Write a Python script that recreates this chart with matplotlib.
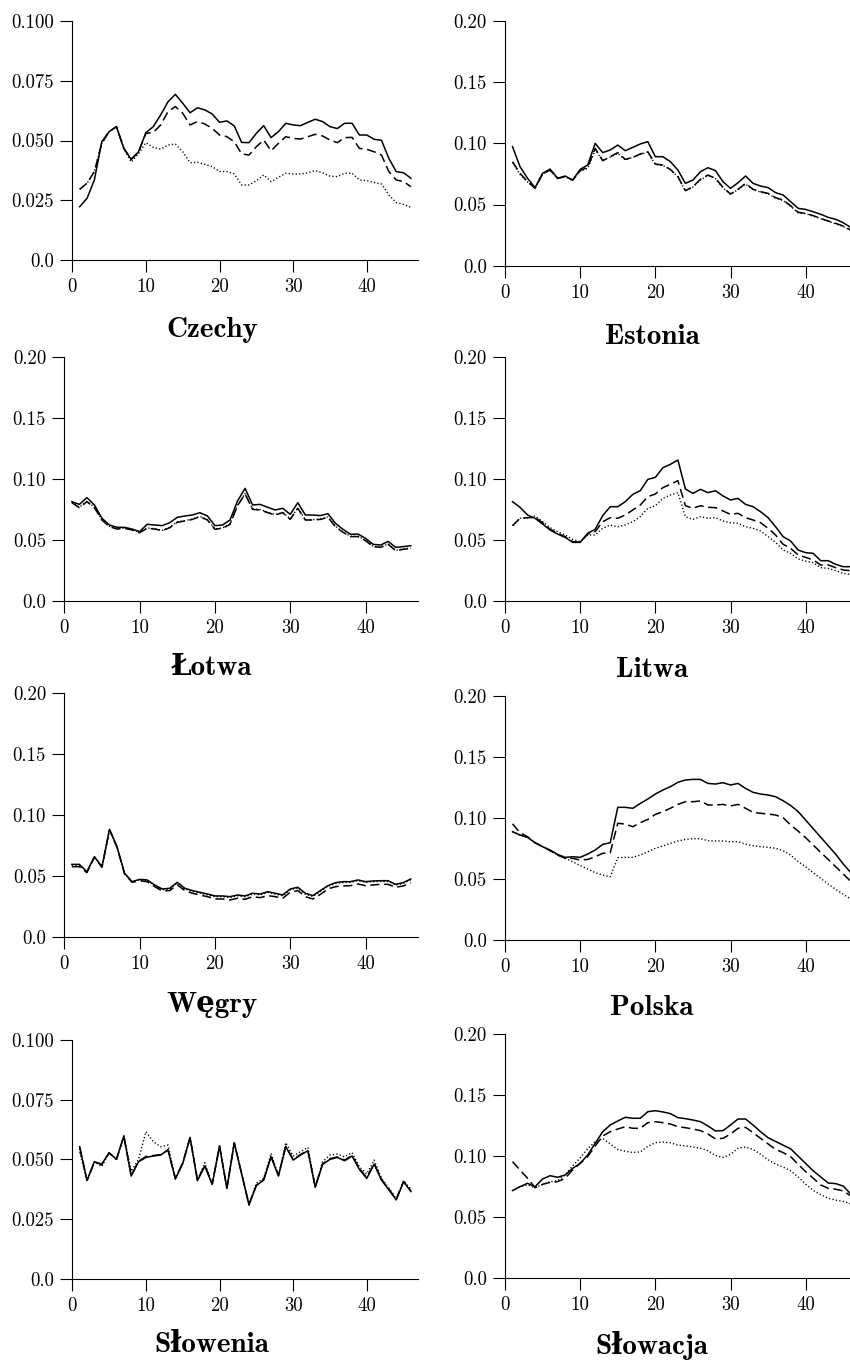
import matplotlib
matplotlib.use("Agg")
import matplotlib.pyplot as plt

# week index on the x axis
weeks = list(range(1, 47))

xticks = [0, 10, 20, 30, 40]
xtick_labels = ["0", "10", "20", "30", "40"]
yticks_small = [0.0, 0.025, 0.050, 0.075, 0.100]
ytick_labels_small = ["0.0", "0.025", "0.050", "0.075", "0.100"]
yticks_big = [0.0, 0.05, 0.10, 0.15, 0.20]
ytick_labels_big = ["0.0", "0.05", "0.10", "0.15", "0.20"]

# Czechy
cz_solid = [0.0223, 0.0258, 0.0335, 0.0495, 0.0537, 0.0558, 0.0467, 0.0421, 0.0453, 0.0533,
            0.0558, 0.0607, 0.0662, 0.0693, 0.0656, 0.0616, 0.0637, 0.0628, 0.0611, 0.0576,
            0.0582, 0.0561, 0.0492, 0.0491, 0.0530, 0.0562, 0.0512, 0.0537, 0.0572, 0.0565,
            0.0562, 0.0576, 0.0589, 0.0579, 0.0558, 0.0550, 0.0572, 0.0572, 0.0523, 0.0523,
            0.0505, 0.0501, 0.0425, 0.0370, 0.0365, 0.0342]
cz_dashed = [0.0296, 0.0321, 0.0370, 0.0488, 0.0537, 0.0558, 0.0467, 0.0421, 0.0453, 0.0530,
             0.0533, 0.0565, 0.0621, 0.0642, 0.0614, 0.0565, 0.0579, 0.0569, 0.0551, 0.0523,
             0.0516, 0.0495, 0.0444, 0.0439, 0.0474, 0.0502, 0.0457, 0.0488, 0.0516, 0.0509,
             0.0506, 0.0516, 0.0526, 0.0519, 0.0502, 0.0491, 0.0512, 0.0513, 0.0467, 0.0463,
             0.0453, 0.0439, 0.0370, 0.0335, 0.0328, 0.0307]
cz_dotted = [0.0296, 0.0321, 0.0370, 0.0488, 0.0537, 0.0558, 0.0467, 0.0410, 0.0445, 0.0491,
             0.0471, 0.0464, 0.0481, 0.0485, 0.0453, 0.0407, 0.0409, 0.0400, 0.0391, 0.0370,
             0.0370, 0.0360, 0.0314, 0.0314, 0.0331, 0.0356, 0.0328, 0.0346, 0.0363, 0.0360,
             0.0360, 0.0365, 0.0374, 0.0365, 0.0351, 0.0349, 0.0363, 0.0363, 0.0335, 0.0332,
             0.0324, 0.0318, 0.0272, 0.0240, 0.0233, 0.0220]

# Estonia
ee_solid = [0.0973, 0.0809, 0.0714, 0.0638, 0.0755, 0.0790, 0.0714, 0.0733, 0.0700, 0.0787,
            0.0823, 0.1000, 0.0924, 0.0946, 0.0986, 0.0940, 0.0967, 0.0995, 0.1014, 0.0891,
            0.0891, 0.0850, 0.0782, 0.0673, 0.0700, 0.0768, 0.0801, 0.0777, 0.0687, 0.0632,
            0.0678, 0.0733, 0.0673, 0.0651, 0.0638, 0.0597, 0.0578, 0.0523, 0.0469, 0.0460,
            0.0441, 0.0420, 0.0395, 0.0379, 0.0351, 0.0313]
ee_dashed = [0.0850, 0.0755, 0.0687, 0.0632, 0.0750, 0.0782, 0.0714, 0.0728, 0.0700, 0.0777,
             0.0804, 0.0959, 0.0858, 0.0891, 0.0924, 0.0869, 0.0886, 0.0913, 0.0932, 0.0831,
             0.0823, 0.0787, 0.0728, 0.0613, 0.0646, 0.0706, 0.0741, 0.0714, 0.0640, 0.0586,
             0.0624, 0.0673, 0.0624, 0.0605, 0.0591, 0.0556, 0.0537, 0.0490, 0.0436, 0.0428,
             0.0409, 0.0387, 0.0365, 0.0346, 0.0324, 0.0292]
ee_dotted = [0.0845, 0.0745, 0.0685, 0.0635, 0.0748, 0.0780, 0.0712, 0.0728, 0.0698, 0.0775,
             0.0795, 0.0945, 0.0862, 0.0888, 0.0918, 0.0865, 0.0885, 0.0910, 0.0928, 0.0826,
             0.0820, 0.0785, 0.0725, 0.0612, 0.0642, 0.0702, 0.0738, 0.0712, 0.0636, 0.0583,
             0.0622, 0.0668, 0.0622, 0.0601, 0.0588, 0.0552, 0.0533, 0.0486, 0.0432, 0.0425,
             0.0405, 0.0384, 0.0362, 0.0342, 0.0320, 0.0288]

# Łotwa
lv_solid = [0.0813, 0.0791, 0.0846, 0.0786, 0.0677, 0.0622, 0.0603, 0.0603, 0.0589, 0.0568,
            0.0628, 0.0622, 0.0617, 0.0641, 0.0685, 0.0696, 0.0704, 0.0723, 0.0696, 0.0617,
            0.0622, 0.0663, 0.0819, 0.0922, 0.0786, 0.0791, 0.0767, 0.0745, 0.0759, 0.0709,
            0.0805, 0.0704, 0.0704, 0.0699, 0.0715, 0.0636, 0.0587, 0.0546, 0.0548, 0.0513,
            0.0464, 0.0458, 0.0488, 0.0439, 0.0445, 0.0453]
lv_dashed = [0.0805, 0.0764, 0.0813, 0.0764, 0.0663, 0.0608, 0.0589, 0.0595, 0.0581, 0.0559,
             0.0595, 0.0589, 0.0576, 0.0600, 0.0644, 0.0655, 0.0668, 0.0690, 0.0663, 0.0587,
             0.0595, 0.0628, 0.0780, 0.0876, 0.0750, 0.0745, 0.0723, 0.0704, 0.0723, 0.0668,
             0.0759, 0.0663, 0.0663, 0.0668, 0.0685, 0.0608, 0.0562, 0.0527, 0.0527, 0.0494,
             0.0445, 0.0439, 0.0464, 0.0412, 0.0423, 0.0431]
lv_dotted = [0.0808, 0.0768, 0.0816, 0.0768, 0.0666, 0.0612, 0.0592, 0.0598, 0.0584, 0.0562,
             0.0598, 0.0592, 0.0578, 0.0604, 0.0648, 0.0658, 0.0671, 0.0693, 0.0666, 0.0590,
             0.0598, 0.0632, 0.0785, 0.0880, 0.0754, 0.0749, 0.0727, 0.0708, 0.0726, 0.0672,
             0.0762, 0.0666, 0.0666, 0.0671, 0.0688, 0.0612, 0.0565, 0.0530, 0.0530, 0.0498,
             0.0448, 0.0442, 0.0467, 0.0415, 0.0426, 0.0434]

# Litwa
lt_solid = [0.0813, 0.0767, 0.0704, 0.0677, 0.0630, 0.0581, 0.0548, 0.0521, 0.0480, 0.0480,
            0.0554, 0.0587, 0.0699, 0.0772, 0.0772, 0.0813, 0.0873, 0.0903, 0.0996, 0.1012,
            0.1091, 0.1119, 0.1154, 0.0917, 0.0881, 0.0914, 0.0887, 0.0903, 0.0860, 0.0827,
            0.0840, 0.0791, 0.0772, 0.0731, 0.0682, 0.0608, 0.0527, 0.0491, 0.0417, 0.0396,
            0.0390, 0.0330, 0.0330, 0.0300, 0.0281, 0.0281]
lt_dashed = [0.0617, 0.0677, 0.0682, 0.0685, 0.0641, 0.0587, 0.0554, 0.0527, 0.0486, 0.0480,
             0.0548, 0.0568, 0.0649, 0.0682, 0.0677, 0.0704, 0.0745, 0.0786, 0.0854, 0.0876,
             0.0928, 0.0955, 0.0985, 0.0780, 0.0759, 0.0780, 0.0767, 0.0764, 0.0737, 0.0709,
             0.0718, 0.0682, 0.0663, 0.0641, 0.0595, 0.0540, 0.0464, 0.0431, 0.0377, 0.0357,
             0.0336, 0.0295, 0.0295, 0.0273, 0.0254, 0.0248]
lt_dotted = [0.0617, 0.0677, 0.0682, 0.0696, 0.0649, 0.0600, 0.0568, 0.0540, 0.0505, 0.0486,
             0.0540, 0.0540, 0.0595, 0.0622, 0.0608, 0.0622, 0.0649, 0.0690, 0.0759, 0.0780,
             0.0840, 0.0868, 0.0887, 0.0690, 0.0668, 0.0690, 0.0677, 0.0682, 0.0655, 0.0641,
             0.0636, 0.0608, 0.0595, 0.0573, 0.0527, 0.0480, 0.0417, 0.0390, 0.0344, 0.0327,
             0.0314, 0.0273, 0.0267, 0.0248, 0.0226, 0.0218]

# Węgry
hu_solid = [0.0598, 0.0598, 0.0538, 0.0661, 0.0579, 0.0885, 0.0743, 0.0525, 0.0456, 0.0475,
            0.0470, 0.0429, 0.0396, 0.0402, 0.0451, 0.0402, 0.0383, 0.0369, 0.0355, 0.0339,
            0.0339, 0.0333, 0.0347, 0.0339, 0.0361, 0.0355, 0.0374, 0.0361, 0.0347, 0.0396,
            0.0410, 0.0361, 0.0342, 0.0383, 0.0423, 0.0448, 0.0456, 0.0456, 0.0470, 0.0456,
            0.0462, 0.0464, 0.0464, 0.0434, 0.0448, 0.0478]
hu_dashed = [0.0579, 0.0579, 0.0530, 0.0656, 0.0574, 0.0880, 0.0738, 0.0519, 0.0451, 0.0464,
             0.0456, 0.0415, 0.0380, 0.0383, 0.0429, 0.0383, 0.0361, 0.0347, 0.0333, 0.0314,
             0.0314, 0.0306, 0.0320, 0.0311, 0.0333, 0.0325, 0.0342, 0.0333, 0.0320, 0.0369,
             0.0383, 0.0333, 0.0314, 0.0352, 0.0396, 0.0415, 0.0421, 0.0423, 0.0437, 0.0423,
             0.0429, 0.0434, 0.0434, 0.0410, 0.0421, 0.0448]
hu_dotted = [0.0592, 0.0592, 0.0534, 0.0658, 0.0576, 0.0882, 0.0740, 0.0522, 0.0453, 0.0472,
             0.0466, 0.0424, 0.0390, 0.0396, 0.0446, 0.0396, 0.0376, 0.0362, 0.0348, 0.0332,
             0.0332, 0.0326, 0.0340, 0.0332, 0.0354, 0.0348, 0.0367, 0.0354, 0.0340, 0.0389,
             0.0403, 0.0354, 0.0335, 0.0376, 0.0416, 0.0441, 0.0449, 0.0450, 0.0464, 0.0450,
             0.0456, 0.0458, 0.0458, 0.0428, 0.0442, 0.0472]

# Polska
pl_solid = [0.0885, 0.0858, 0.0839, 0.0795, 0.0762, 0.0735, 0.0699, 0.0675, 0.0680, 0.0675,
            0.0702, 0.0735, 0.0781, 0.0795, 0.1085, 0.1085, 0.1077, 0.1117, 0.1153, 0.1194,
            0.1227, 0.1254, 0.1290, 0.1309, 0.1314, 0.1314, 0.1281, 0.1276, 0.1287, 0.1268,
            0.1281, 0.1240, 0.1208, 0.1194, 0.1186, 0.1172, 0.1139, 0.1100, 0.1050, 0.0980,
            0.0910, 0.0840, 0.0770, 0.0700, 0.0620, 0.0550]
pl_dashed = [0.0950, 0.0877, 0.0844, 0.0795, 0.0762, 0.0730, 0.0694, 0.0667, 0.0667, 0.0653,
             0.0658, 0.0680, 0.0708, 0.0713, 0.0954, 0.0948, 0.0926, 0.0959, 0.0986, 0.1027,
             0.1049, 0.1077, 0.1109, 0.1131, 0.1131, 0.1137, 0.1104, 0.1104, 0.1109, 0.1096,
             0.1109, 0.1077, 0.1044, 0.1036, 0.1030, 0.1022, 0.1000, 0.0940, 0.0890, 0.0836,
             0.0776, 0.0716, 0.0657, 0.0598, 0.0538, 0.0478]
pl_dotted = [0.0885, 0.0858, 0.0839, 0.0795, 0.0762, 0.0730, 0.0694, 0.0667, 0.0639, 0.0607,
             0.0579, 0.0549, 0.0530, 0.0516, 0.0672, 0.0675, 0.0675, 0.0694, 0.0721, 0.0749,
             0.0768, 0.0790, 0.0809, 0.0822, 0.0828, 0.0828, 0.0811, 0.0809, 0.0809, 0.0803,
             0.0803, 0.0784, 0.0770, 0.0762, 0.0757, 0.0749, 0.0730, 0.0694, 0.0639, 0.0598,
             0.0549, 0.0503, 0.0456, 0.0413, 0.0372, 0.0333]

# Słowenia
si_solid = [0.0553, 0.0411, 0.0490, 0.0480, 0.0528, 0.0500, 0.0598, 0.0430, 0.0490, 0.0508,
            0.0514, 0.0518, 0.0539, 0.0418, 0.0483, 0.0592, 0.0411, 0.0472, 0.0395, 0.0556,
            0.0378, 0.0570, 0.0439, 0.0309, 0.0390, 0.0413, 0.0511, 0.0430, 0.0553, 0.0497,
            0.0518, 0.0536, 0.0383, 0.0479, 0.0500, 0.0508, 0.0494, 0.0514, 0.0458, 0.0420,
            0.0480, 0.0413, 0.0372, 0.0330, 0.0406, 0.0365]
si_dashed = [0.0550, 0.0413, 0.0488, 0.0478, 0.0526, 0.0500, 0.0596, 0.0432, 0.0492, 0.0512,
             0.0516, 0.0520, 0.0540, 0.0420, 0.0485, 0.0590, 0.0414, 0.0474, 0.0397, 0.0554,
             0.0380, 0.0568, 0.0441, 0.0312, 0.0392, 0.0416, 0.0513, 0.0433, 0.0555, 0.0500,
             0.0520, 0.0538, 0.0386, 0.0481, 0.0503, 0.0510, 0.0497, 0.0516, 0.0461, 0.0424,
             0.0483, 0.0416, 0.0376, 0.0333, 0.0408, 0.0368]
si_dotted = [0.0530, 0.0411, 0.0490, 0.0470, 0.0528, 0.0500, 0.0598, 0.0450, 0.0500, 0.0616,
             0.0574, 0.0553, 0.0560, 0.0418, 0.0483, 0.0592, 0.0411, 0.0486, 0.0395, 0.0556,
             0.0378, 0.0570, 0.0439, 0.0309, 0.0400, 0.0420, 0.0525, 0.0430, 0.0570, 0.0514,
             0.0532, 0.0550, 0.0383, 0.0490, 0.0518, 0.0522, 0.0511, 0.0528, 0.0469, 0.0439,
             0.0497, 0.0420, 0.0380, 0.0335, 0.0410, 0.0375]

# Słowacja
sk_solid = [0.0718, 0.0750, 0.0778, 0.0750, 0.0813, 0.0840, 0.0827, 0.0846, 0.0900, 0.0941,
            0.1010, 0.1105, 0.1200, 0.1255, 0.1288, 0.1318, 0.1310, 0.1310, 0.1364, 0.1372,
            0.1362, 0.1348, 0.1315, 0.1307, 0.1296, 0.1282, 0.1247, 0.1206, 0.1209, 0.1255,
            0.1304, 0.1304, 0.1255, 0.1200, 0.1151, 0.1120, 0.1090, 0.1060, 0.1000, 0.0940,
            0.0880, 0.0830, 0.0780, 0.0775, 0.0755, 0.0690]
sk_dashed = [0.0955, 0.0887, 0.0819, 0.0742, 0.0769, 0.0786, 0.0791, 0.0819, 0.0887, 0.0941,
             0.0996, 0.1083, 0.1165, 0.1200, 0.1222, 0.1241, 0.1228, 0.1228, 0.1274, 0.1282,
             0.1274, 0.1263, 0.1241, 0.1233, 0.1222, 0.1209, 0.1181, 0.1141, 0.1146, 0.1181,
             0.1228, 0.1236, 0.1192, 0.1146, 0.1100, 0.1056, 0.1029, 0.0996, 0.0933, 0.0873,
             0.0819, 0.0764, 0.0737, 0.0729, 0.0715, 0.0675]
sk_dotted = [0.0718, 0.0750, 0.0765, 0.0742, 0.0769, 0.0790, 0.0800, 0.0846, 0.0920, 0.0985,
             0.1060, 0.1120, 0.1145, 0.1100, 0.1055, 0.1040, 0.1030, 0.1035, 0.1080, 0.1110,
             0.1115, 0.1110, 0.1090, 0.1085, 0.1075, 0.1065, 0.1045, 0.1005, 0.0990, 0.1015,
             0.1065, 0.1075, 0.1055, 0.1015, 0.0970, 0.0935, 0.0910, 0.0880, 0.0830, 0.0770,
             0.0720, 0.0685, 0.0655, 0.0640, 0.0630, 0.0610]

W, H = 850, 1362
fig = plt.figure(figsize=(W / 100, H / 100), dpi=100)

tick_font = ["cmr10", "DejaVu Serif"]
title_font = ["cmb10", "DejaVu Serif"]


def panel(x0, x1, ytop, ybot, title, tx, ty, small, solid, dashed, dotted):
    # positions given in pixels of the final image
    ax = fig.add_axes([x0 / W, 1 - ybot / H, (x1 - x0) / W, (ybot - ytop) / H])
    ax.plot(weeks, solid, color="black", lw=1.1)
    ax.plot(weeks, dashed, color="black", lw=1.1, dashes=(6.0, 3.0))
    ax.plot(weeks, dotted, color="black", lw=1.0, dashes=(0.9, 1.6))
    ax.set_xlim(0, 47)
    if small:
        ax.set_ylim(0, 0.1)
        ax.set_yticks(yticks_small)
        ax.set_yticklabels(ytick_labels_small)
    else:
        ax.set_ylim(0, 0.2)
        ax.set_yticks(yticks_big)
        ax.set_yticklabels(ytick_labels_big)
    ax.set_xticks(xticks)
    ax.set_xticklabels(xtick_labels)
    for s in ["top", "right"]:
        ax.spines[s].set_visible(False)
    for s in ["left", "bottom"]:
        ax.spines[s].set_linewidth(0.8)
    ax.tick_params(length=8.6, width=0.8, pad=4.5, labelsize=13.5)
    for lab in ax.get_xticklabels() + ax.get_yticklabels():
        lab.set_family(tick_font)
    fig.text(tx / W, 1 - ty / H, title, ha="center", va="center",
             fontsize=21, fontweight="bold", family=title_font)
    return ax


panel(72.3, 418.3, 21, 260, "Czechy", 212, 330, True, cz_solid, cz_dashed, cz_dotted)
panel(505, 858.3, 21, 265.7, "Estonia", 652, 337, False, ee_solid, ee_dashed, ee_dotted)
panel(64.3, 418.3, 356.7, 601, "Łotwa", 212, 668, False, lv_solid, lv_dashed, lv_dotted)
panel(505, 858.3, 356.7, 601, "Litwa", 652, 670, False, lt_solid, lt_dashed, lt_dotted)
panel(64.3, 418.3, 693.3, 937.3, "Węgry", 212, 1005, False, hu_solid, hu_dashed, hu_dotted)
panel(505, 858.3, 695.7, 939.7, "Polska", 652, 1008, False, pl_solid, pl_dashed, pl_dotted)
panel(72.3, 418.3, 1040, 1278.7, "Słowenia", 212, 1345, True, si_solid, si_dashed, si_dotted)
panel(505, 858.3, 1034, 1278.3, "Słowacja", 652, 1345, False, sk_solid, sk_dashed, sk_dotted)

fig.savefig("out.png", dpi=100)
